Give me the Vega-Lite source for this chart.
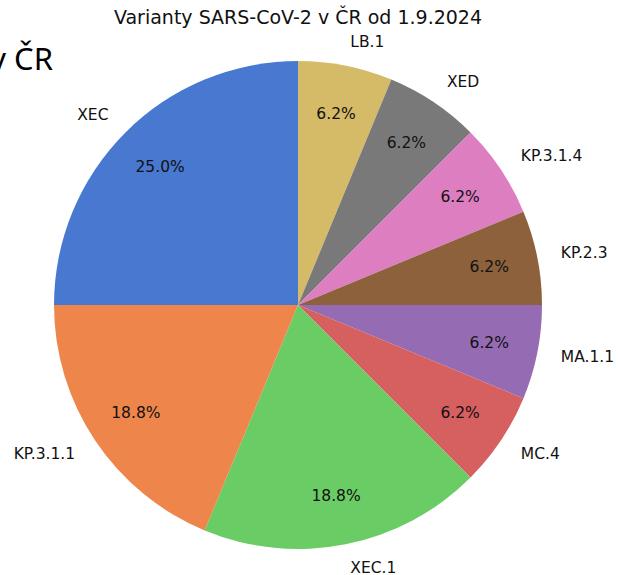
{
  "$schema": "https://vega.github.io/schema/vega-lite/v6.json",
  "autosize": {"type": "none"},
  "padding": {"top": 40, "left": 0, "right": 22, "bottom": 5},
  "width": 596,
  "height": 530,
  "background": "white",
  "title": {
    "text": "Varianty SARS-CoV-2 v ČR od 1.9.2024",
    "font": "DejaVu Sans",
    "fontSize": 19,
    "fontWeight": "normal",
    "color": "#111111",
    "offset": 7
  },
  "config": {"view": {"stroke": null}},
  "layer": [
    {
      "data": {"name": "slices", "values": [
        {"name": "LB.1", "value": 1, "pct": "6.2%", "order": 1},
        {"name": "XED", "value": 1, "pct": "6.2%", "order": 2},
        {"name": "KP.3.1.4", "value": 1, "pct": "6.2%", "order": 3},
        {"name": "KP.2.3", "value": 1, "pct": "6.2%", "order": 4},
        {"name": "MA.1.1", "value": 1, "pct": "6.2%", "order": 5},
        {"name": "MC.4", "value": 1, "pct": "6.2%", "order": 6},
        {"name": "XEC.1", "value": 3, "pct": "18.8%", "order": 7},
        {"name": "KP.3.1.1", "value": 3, "pct": "18.8%", "order": 8},
        {"name": "XEC", "value": 4, "pct": "25.0%", "order": 9}
      ]},
      "encoding": {
        "theta": {"field": "value", "type": "quantitative", "stack": true},
        "order": {"field": "order", "type": "quantitative", "sort": "ascending"}
      },
      "layer": [
        {
          "mark": {"type": "arc", "radius": 244},
          "encoding": {
            "color": {
              "field": "name", "type": "nominal", "legend": null,
              "scale": {
                "domain": ["LB.1", "XED", "KP.3.1.4", "KP.2.3", "MA.1.1", "MC.4", "XEC.1", "KP.3.1.1", "XEC"],
                "range": ["#d5bb67", "#797979", "#dc7ec0", "#8c613c", "#956cb4", "#d65f5f", "#6acc64", "#ee854a", "#4878d0"]
              }
            }
          }
        },
        {
          "mark": {"type": "text", "radius": 195, "font": "DejaVu Sans", "fontSize": 15.5, "color": "#111111", "align": "center", "baseline": "middle"},
          "encoding": {"text": {"field": "pct"}}
        },
        {
          "mark": {"type": "text", "radius": 268, "font": "DejaVu Sans", "fontSize": 15.5, "color": "#111111", "align": "left", "baseline": "middle"},
          "encoding": {"text": {"condition": {"test": "datum.order < 8", "field": "name"}, "value": ""}}
        },
        {
          "mark": {"type": "text", "radius": 268, "font": "DejaVu Sans", "fontSize": 15.5, "color": "#111111", "align": "right", "baseline": "middle"},
          "encoding": {"text": {"condition": {"test": "datum.order >= 8", "field": "name"}, "value": ""}}
        }
      ]
    },
    {
      "data": {"values": [{"note": "v ČR"}]},
      "mark": {"type": "text", "x": 53, "y": 30, "align": "right", "baseline": "alphabetic", "font": "Noto Sans", "fontSize": 31, "color": "#000000"},
      "encoding": {"text": {"field": "note"}}
    }
  ]
}
